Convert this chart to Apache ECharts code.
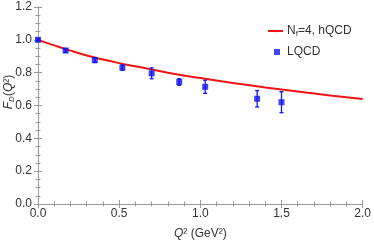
<!DOCTYPE html>
<html><head><meta charset="utf-8">
<script src="https://cdn.jsdelivr.net/npm/echarts@6/dist/echarts.min.js"></script>
<style>html,body{margin:0;padding:0;background:#fff}#c{width:374px;height:245px}</style>
</head><body><div id="c"></div>
<script>
// hQCD curve (Nf=4)
const curveQ2 = [0, 0.1, 0.2, 0.3, 0.4, 0.5, 0.6, 0.8, 1.0, 1.2, 1.4, 1.6, 1.8, 2.0];
const curveF  = [1.0, 0.966, 0.934, 0.905, 0.880, 0.858, 0.839, 0.800, 0.767, 0.737, 0.710, 0.685, 0.661, 0.639];
// LQCD points
const lqQ2  = [0, 0.17, 0.35, 0.52, 0.70, 0.87, 1.03, 1.35, 1.50];
const lqF   = [1.0, 0.935, 0.876, 0.831, 0.796, 0.743, 0.714, 0.641, 0.620];
const lqErr = [0.006, 0.012, 0.014, 0.016, 0.033, 0.020, 0.040, 0.050, 0.064];
const xTicks = [0, 0.5, 1.0, 1.5, 2.0];
const yTicks = [0, 0.2, 0.4, 0.6, 0.8, 1.0, 1.2];

const FONT = 'Liberation Sans';
const FS = 12;
const frame = '#999';
const txt = '#333';
const blue = '#1414f0';
const red = '#f01414';

const chart = echarts.init(document.getElementById('c'));
const axisCommon = {
  type: 'value',
  axisLine: {show: true, lineStyle: {color: frame, width: 1}},
  axisTick: {show: true, inside: true, length: 4, lineStyle: {color: frame}},
  splitLine: {show: false}
};
chart.setOption({
  animation: false,
  grid: {left: 38, right: 9, top: 7, bottom: 36},
  legend: [
    {data: ['N_f=4, hQCD'], left: 262, top: 20, itemWidth: 15, itemHeight: 3, itemGap: 5,
     formatter: () => '{a|N}{s|f}{a|=4, hQCD}',
     textStyle: {fontFamily: FONT, fontSize: FS, color: txt, padding: [0,0,0,-1],
       rich: {a: {fontFamily: FONT, fontSize: FS, color: txt}, s: {fontFamily: FONT, fontSize: 8, color: txt, verticalAlign: 'bottom', padding: [6,0,0,0]}}}},
    {data: ['LQCD'], left: 269, top: 41, itemWidth: 6, itemHeight: 6,
     textStyle: {fontFamily: FONT, fontSize: FS, color: txt, padding: [0,0,0,2]}}
  ],
  xAxis: [
    Object.assign({}, axisCommon, {min: 0, max: 2, interval: 0.5,
      minorTick: {show: true, splitNumber: 5, length: 2.5, lineStyle: {color: frame}},
      axisLabel: {fontFamily: FONT, fontSize: FS, color: txt, margin: 4, formatter: v => v.toFixed(1)},
      name: '{i|Q}{n|² (GeV²)}', nameLocation: 'middle', nameGap: 24,
      nameTextStyle: {rich: {i: {fontFamily: FONT, fontSize: FS, color: txt, fontStyle: 'italic'}, n: {fontFamily: FONT, fontSize: FS, color: txt}}}}),
    Object.assign({}, axisCommon, {position: 'top', min: 0, max: 2, interval: 0.5,
      minorTick: {show: true, splitNumber: 5, length: 2.5, lineStyle: {color: frame}},
      axisLabel: {show: false}})
  ],
  yAxis: [
    Object.assign({}, axisCommon, {min: 0, max: 1.2, interval: 0.2,
      minorTick: {show: true, splitNumber: 4, length: 2.5, lineStyle: {color: frame}},
      axisLabel: {fontFamily: FONT, fontSize: FS, color: txt, margin: 6, formatter: v => v.toFixed(1)}}),
    Object.assign({}, axisCommon, {position: 'right', min: 0, max: 1.2, interval: 0.2,
      minorTick: {show: true, splitNumber: 4, length: 2.5, lineStyle: {color: frame}},
      axisLabel: {show: false}})
  ],
  graphic: [{
    type: 'text', x: 9, y: 92, rotation: Math.PI / 2,
    style: {text: '{i|F}{s|D}{n|(}{i|Q}{n|²)}', align: 'center', verticalAlign: 'middle',
      rich: {i: {fontFamily: FONT, fontSize: FS, fill: txt, fontStyle: 'italic'},
             s: {fontFamily: FONT, fontSize: 8, fill: txt, fontStyle: 'italic', verticalAlign: 'bottom', padding: [6,0,0,0]},
             n: {fontFamily: FONT, fontSize: FS, fill: txt}}}
  }],
  series: [
    {name: 'N_f=4, hQCD', type: 'line', smooth: true, symbol: 'none',
     data: curveQ2.map((q, i) => [q, curveF[i]]),
     lineStyle: {color: red, width: 2}, itemStyle: {color: red}, z: 3},
    {name: 'LQCD-err', type: 'custom',
     data: lqQ2.map((q, i) => [q, lqF[i] - lqErr[i], lqF[i] + lqErr[i]]),
     renderItem: (params, api) => {
       const lo = api.coord([api.value(0), api.value(1)]);
       const hi = api.coord([api.value(0), api.value(2)]);
       const w = 2;
       const st = {stroke: blue, lineWidth: 1.3};
       return {type: 'group', children: [
         {type: 'line', shape: {x1: lo[0], y1: lo[1], x2: hi[0], y2: hi[1]}, style: st},
         {type: 'line', shape: {x1: lo[0]-w, y1: lo[1], x2: lo[0]+w, y2: lo[1]}, style: st},
         {type: 'line', shape: {x1: hi[0]-w, y1: hi[1], x2: hi[0]+w, y2: hi[1]}, style: st}
       ]};
     }, z: 4},
    {name: 'LQCD', type: 'scatter', symbol: 'rect', symbolSize: 6,
     data: lqQ2.map((q, i) => [q, lqF[i]]),
     itemStyle: {color: blue}, z: 5}
  ]
});
</script></body></html>
